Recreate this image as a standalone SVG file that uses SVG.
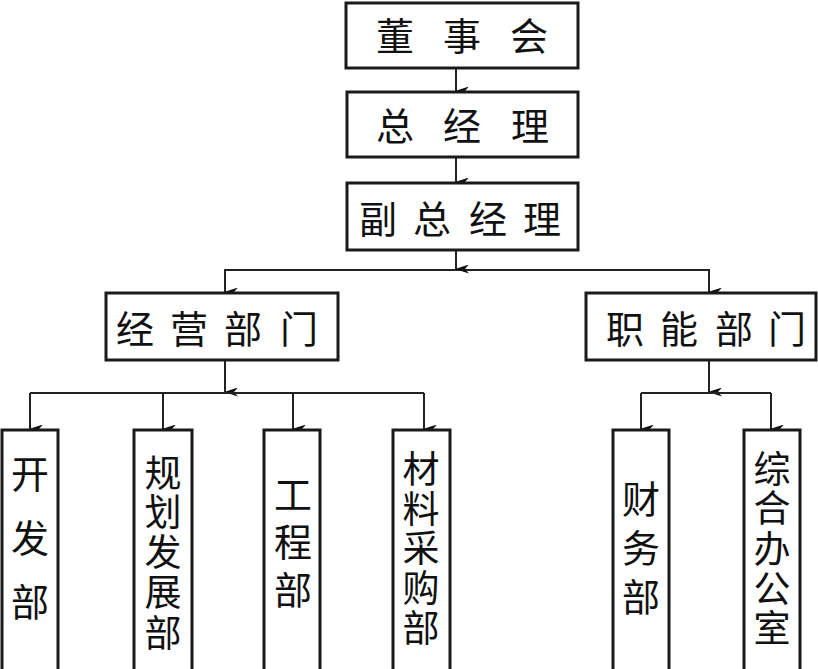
<svg xmlns="http://www.w3.org/2000/svg" width="818" height="669" viewBox="0 0 818 669">
<defs>
<marker id="ah" markerWidth="9" markerHeight="14" refX="4.5" refY="13" orient="auto" markerUnits="userSpaceOnUse" viewBox="0 0 9 14">
<path d="M0,0 L4.5,4 L9,0 L4.5,14 Z" fill="#111"/>
</marker>
<style>
.box{fill:#fff;stroke:#1a1a1a;stroke-width:3}
.ln{fill:none;stroke:#222;stroke-width:2}
.ar{fill:none;stroke:#222;stroke-width:2;marker-end:url(#ah)}
text{font-family:"Noto Sans CJK SC","Noto Sans CJK JP",sans-serif;font-size:38px;fill:#111;text-anchor:middle;dominant-baseline:central}
.s{font-size:37px}
</style>
</defs>
<rect width="818" height="669" fill="#fff"/>
<g id="connectors">
<line class="ar" x1="456" y1="68" x2="456" y2="91"/>
<line class="ar" x1="456" y1="157" x2="456" y2="182"/>
<polyline class="ln" points="225,292 225,270 709,270 709,292"/>
<line class="ar" x1="456" y1="250" x2="456" y2="269"/>
<line class="ar" x1="225" y1="272" x2="225" y2="292"/>
<line class="ar" x1="709" y1="272" x2="709" y2="292"/>
<line class="ar" x1="225" y1="360" x2="225" y2="392"/>
<line class="ln" x1="30" y1="393" x2="424" y2="393"/>
<line class="ar" x1="30" y1="393" x2="30" y2="429"/>
<line class="ar" x1="163" y1="393" x2="163" y2="429"/>
<line class="ar" x1="293" y1="393" x2="293" y2="429"/>
<line class="ar" x1="424" y1="393" x2="424" y2="429"/>
<line class="ar" x1="709" y1="360" x2="709" y2="392"/>
<line class="ln" x1="641" y1="393" x2="771" y2="393"/>
<line class="ar" x1="641" y1="393" x2="641" y2="429"/>
<line class="ar" x1="771" y1="393" x2="771" y2="429"/>
</g>
<g id="dongshihui">
<rect class="box" x="346" y="3" width="232" height="65"/>
<text y="33"><tspan x="395">董</tspan><tspan x="462">事</tspan><tspan x="529">会</tspan></text>
</g>
<g id="zongjingli">
<rect class="box" x="347" y="92" width="231" height="65"/>
<text y="123"><tspan x="395">总</tspan><tspan x="462">经</tspan><tspan x="530">理</tspan></text>
</g>
<g id="fuzongjingli">
<rect class="box" x="347" y="183" width="231" height="67"/>
<text y="216"><tspan x="378">副</tspan><tspan x="432">总</tspan><tspan x="488">经</tspan><tspan x="542">理</tspan></text>
</g>
<g id="jingyingbumen">
<rect class="box" x="106" y="293" width="232" height="67"/>
<text y="326"><tspan x="135">经</tspan><tspan x="189">营</tspan><tspan x="243">部</tspan><tspan x="299">门</tspan></text>
</g>
<g id="zhinengbumen">
<rect class="box" x="586" y="293" width="230" height="67"/>
<text y="326"><tspan x="625">职</tspan><tspan x="679">能</tspan><tspan x="734">部</tspan><tspan x="787">门</tspan></text>
</g>
<g id="kaifabu">
<rect class="box" x="2" y="430" width="56" height="245"/>
<text x="30"><tspan x="30" y="471">开</tspan><tspan x="30" y="535">发</tspan><tspan x="30" y="599">部</tspan></text>
</g>
<g id="guihuafazhanbu">
<rect class="box" x="134" y="430" width="58" height="245"/>
<text class="s" x="163"><tspan x="163" y="471">规</tspan><tspan x="163" y="510">划</tspan><tspan x="163" y="550">发</tspan><tspan x="163" y="590">展</tspan><tspan x="163" y="631">部</tspan></text>
</g>
<g id="gongchengbu">
<rect class="box" x="264" y="430" width="56" height="245"/>
<text x="293"><tspan x="293" y="492">工</tspan><tspan x="293" y="539">程</tspan><tspan x="293" y="587">部</tspan></text>
</g>
<g id="cailiaocaigoubu">
<rect class="box" x="393" y="430" width="57" height="245"/>
<text class="s" x="421"><tspan x="421" y="467">材</tspan><tspan x="421" y="507">料</tspan><tspan x="421" y="546">采</tspan><tspan x="421" y="586">购</tspan><tspan x="421" y="626">部</tspan></text>
</g>
<g id="caiwubu">
<rect class="box" x="613" y="430" width="56" height="245"/>
<text x="641"><tspan x="641" y="496">财</tspan><tspan x="641" y="545">务</tspan><tspan x="641" y="594">部</tspan></text>
</g>
<g id="zonghebangongshi">
<rect class="box" x="744" y="430" width="56" height="245"/>
<text class="s" x="772"><tspan x="772" y="467">综</tspan><tspan x="772" y="506">合</tspan><tspan x="772" y="547">办</tspan><tspan x="772" y="587">公</tspan><tspan x="772" y="626">室</tspan></text>
</g>
</svg>
